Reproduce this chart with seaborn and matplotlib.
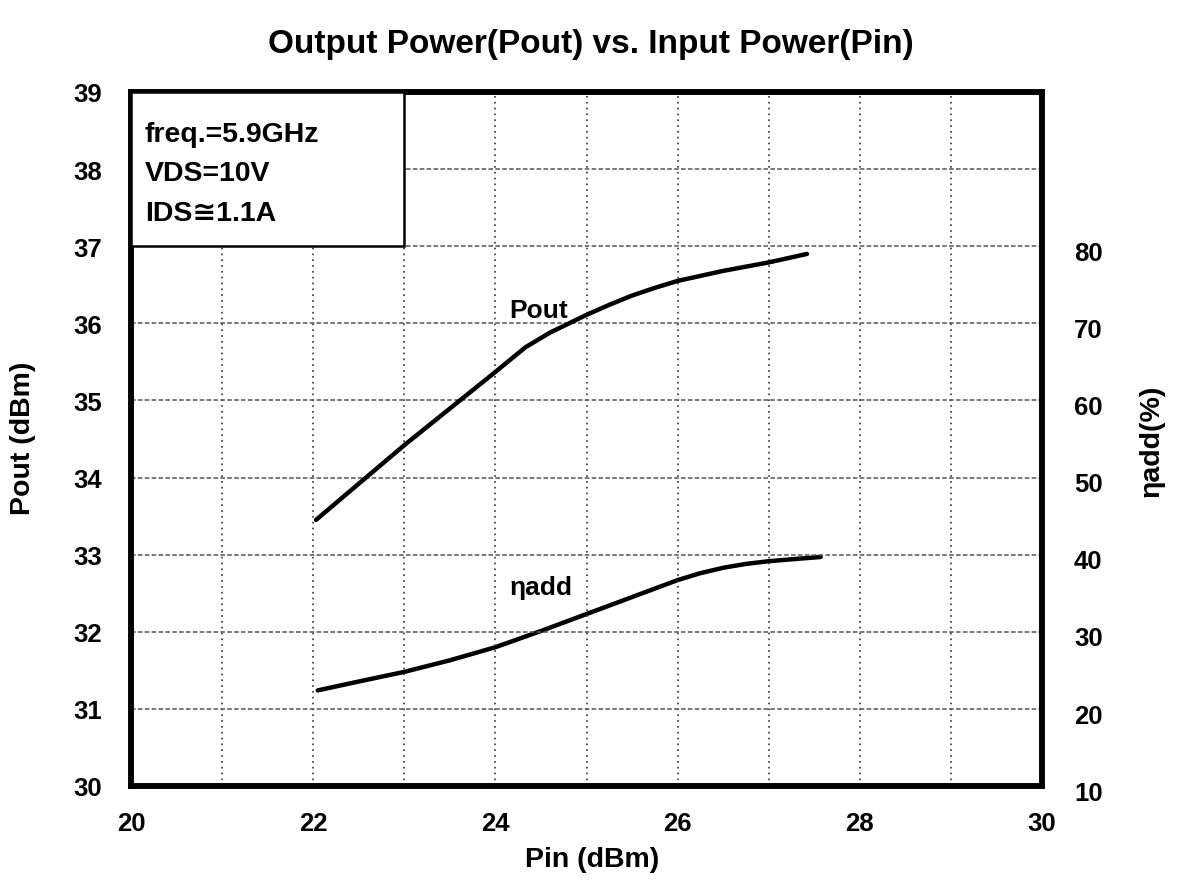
import numpy as np
import pandas as pd
import matplotlib
matplotlib.use("Agg")
import matplotlib.pyplot as plt
import matplotlib.transforms as mtransforms
from matplotlib.patches import Rectangle
import seaborn as sns

# ---- data ----
pin_pout = [22.03, 23.0, 24.0, 24.33, 24.6, 25.0, 25.25, 25.5, 25.75, 26.0, 26.5, 27.0, 27.42]
pout = [33.45, 34.42, 35.37, 35.69, 35.88, 36.11, 36.24, 36.36, 36.46, 36.55, 36.68, 36.79, 36.90]

pin_eff = [22.05, 22.5, 23.0, 23.5, 24.0, 24.5, 25.0, 25.5, 26.0, 26.25, 26.5, 26.75, 27.0, 27.25, 27.57]
eta_add = [22.4, 23.55, 24.8, 26.3, 28.0, 30.1, 32.3, 34.5, 36.7, 37.6, 38.3, 38.8, 39.15, 39.4, 39.7]

x_ticks = [20, 22, 24, 26, 28, 30]
left_ticks = [30, 31, 32, 33, 34, 35, 36, 37, 38, 39]
right_ticks = [10, 20, 30, 40, 50, 60, 70, 80]
cond_lines = ["freq.=5.9GHz", "VDS=10V", "IDS\u22451.1A"]

title = "Output Power(Pout) vs. Input Power(Pin)"

sns.set_style("white")
plt.rcParams['font.family'] = ['Liberation Sans', 'DejaVu Sans']
plt.rcParams['font.weight'] = 'bold'
for k in ['text.color', 'axes.labelcolor', 'xtick.color', 'ytick.color']:
    plt.rcParams[k] = 'black'
FS = 18.5
LFS = 20.5

fig = plt.figure(figsize=(11.78, 8.87), dpi=100)
ax = fig.add_axes([131/1178, 1-787/887, (1042-131)/1178, (787-93)/887])

df1 = pd.DataFrame({"Pin": pin_pout, "Pout": pout})
df2 = pd.DataFrame({"Pin": pin_eff, "eta": eta_add})

ax.set_xlim(20, 30)
ax.set_ylim(30, 39)

# grid lines
for xv in range(21, 30):
    ax.axvline(xv, color="#333333", lw=1.2, ls=(0, (1, 2.5)), zorder=1)
for yv in range(31, 39):
    ax.axhline(yv, color="#555555", lw=1.1, ls=(0, (3, 1.5)), zorder=1)

sns.lineplot(data=df1, x="Pin", y="Pout", ax=ax, color="black", lw=3.2, zorder=5, legend=False)

ax2 = ax.twinx()
ax2.set_ylim(10, 100)
sns.lineplot(data=df2, x="Pin", y="eta", ax=ax2, color="black", lw=3.2, zorder=5, legend=False)

ax.set_xticks(x_ticks)
ax.set_xticklabels([str(v) for v in x_ticks], fontsize=FS, fontweight='bold')
ax.set_yticks(left_ticks)
ax.set_yticklabels([str(v) for v in left_ticks], fontsize=FS, fontweight='bold')
ax2.set_yticks(right_ticks)
ax2.set_yticklabels([str(v) for v in right_ticks], fontsize=FS, fontweight='bold')
ax.tick_params(axis='x', length=0, pad=18)
ax.tick_params(axis='y', length=0, pad=21)
ax2.tick_params(axis='y', length=0, pad=23)
offset = mtransforms.ScaledTranslation(0, -3/72, fig.dpi_scale_trans)
for lab in ax2.get_yticklabels():
    lab.set_transform(lab.get_transform() + offset)

ax.set_xlabel("")
ax.set_ylabel("")
ax2.set_ylabel("")

for a in (ax, ax2):
    for s in a.spines.values():
        s.set_linewidth(4)
        s.set_color("black")

# condition box
box = Rectangle((20, 37), 3.0, 2.0, facecolor="white", edgecolor="black", lw=1.8, zorder=6)
ax.add_patch(box)
ax.set_zorder(2)
ax2.set_zorder(1)
ax.patch.set_visible(False)
ys = [38.46, 37.95, 37.43]
for t, yv in zip(cond_lines, ys):
    ax.text(20.15, yv, t, fontsize=20.5, fontweight='bold', va='center', ha='left', zorder=7)

ax.text(24.47, 36.17, "Pout", fontsize=19, fontweight='bold', ha='center', va='center', zorder=7)
ax2.text(24.5, 35.8, "\u03b7add", fontsize=19, fontweight='bold', ha='center', va='center', zorder=7)

fig.text(591/1178, 1-45/887, title, fontsize=24, fontweight='bold', ha='center', va='center')
fig.text(592/1178, 1-860/887, "Pin (dBm)", fontsize=LFS, fontweight='bold', ha='center', va='center')
fig.text(23/1178, 1-438/887, "Pout (dBm)", fontsize=LFS, fontweight='bold', ha='center', va='center', rotation=90)
fig.text(1152/1178, 1-441/887, "\u03b7add(%)", fontsize=LFS, fontweight='bold', ha='center', va='center', rotation=90)

fig.savefig("out.png", dpi=100)
